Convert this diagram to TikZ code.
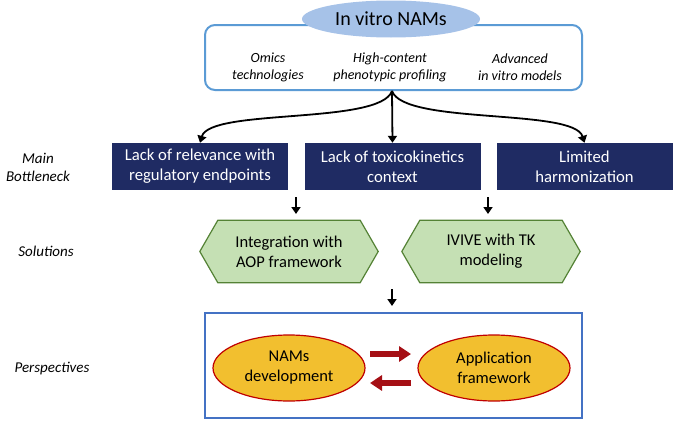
\documentclass[tikz,border=0pt]{standalone}
\usepackage{fontspec}
\setmainfont{Carlito}
\usetikzlibrary{shapes.geometric,arrows.meta,calc}
\definecolor{topblue}{HTML}{5B9BD5}
\definecolor{ellblue}{HTML}{A6C2E8}
\definecolor{navy}{HTML}{1F2B63}
\definecolor{hexfill}{HTML}{C5E0B4}
\definecolor{hexline}{HTML}{548235}
\definecolor{botblue}{HTML}{4472C4}
\definecolor{ovfill}{HTML}{F2BF2F}
\definecolor{ovline}{HTML}{C00000}
\definecolor{redarr}{HTML}{A50F15}
\tikzset{
  x=1pt,y=-1pt,
  lab/.style={font=\itshape\fontsize{14}{17}\selectfont,align=center},
  sidelab/.style={font=\itshape\fontsize{15}{18}\selectfont,align=center},
  bneck/.style={fill=navy,text=white,minimum width=176pt,minimum height=47pt,align=center,font=\fontsize{16.7}{20}\selectfont,inner sep=0pt},
  hexa/.style={minimum width=178pt,minimum height=62pt,align=center,font=\fontsize{16.5}{20}\selectfont,inner sep=0pt},
  hexdraw/.style={draw=hexline,line width=1.2pt,fill=hexfill},
  oval/.style={ellipse,draw=ovline,line width=1.2pt,fill=ovfill,minimum width=152pt,minimum height=66pt,align=center,font=\fontsize{16.5}{20}\selectfont,inner sep=0pt},
  blk/.style={-{Triangle[length=7pt,width=9pt]},line width=1.8pt,black},
  redar/.style={-{Triangle[length=12pt,width=15pt]},line width=6pt,redarr},
}
\begin{document}
\begin{tikzpicture}
\useasboundingbox (0,0) rectangle (675,423);
% top box
\node[draw=topblue,line width=2pt,rounded corners=10pt,minimum width=377pt,minimum height=65pt,inner sep=0pt] (top) at (393.5,57.5) {};
\node[ellipse,fill=ellblue,minimum width=178pt,minimum height=37pt,font=\fontsize{20}{24}\selectfont,inner sep=0pt] (nams) at (391,19) {In vitro NAMs};
\node[lab] (omics) at (268,67) {Omics\\technologies};
\node[lab] (hcpp) at (390,67) {High-content\\phenotypic profiling};
\node[lab] (adv) at (520,67) {Advanced\\in vitro models};
\coordinate (junc) at (392,91);
% bottleneck boxes
\node[bneck] (b1) at (200,166.5) {Lack of relevance with\\regulatory endpoints};
\node[bneck] (b2) at (392.5,166.5) {Lack of toxicokinetics\\context};
\node[bneck] (b3) at (584.5,166.5) {Limited\\harmonization};
\draw[blk] (junc) .. controls (380,125) and (210,108) .. (b1.north);
\draw[blk] (junc) -- (b2.north);
\draw[blk] (junc) .. controls (404,125) and (574,108) .. (b3.north);
% side labels
\node[sidelab] (mb) at (38,167) {Main\\Bottleneck};
\node[sidelab] (sol) at (46,251) {Solutions};
\node[sidelab] (per) at (52,369) {Perspectives};
% solutions
\node[hexa] (h1) at (289,251.5) {};
\node[hexa] (h2) at (491,251.5) {};
\foreach \h in {h1,h2}{
  \draw[hexdraw] (\h.west) -- ($(\h.north west)+(18,0)$) -- ($(\h.north east)+(-18,0)$) -- (\h.east) -- ($(\h.south east)+(-18,0)$) -- ($(\h.south west)+(18,0)$) -- cycle;
}
\node[hexa] (t1) at (h1) {Integration with\\AOP framework};
\node[hexa] (t2) at (h2) {IVIVE with TK\\modeling};
\coordinate (a1s) at (296,197);
\coordinate (a1e) at (296,214);
\coordinate (a2s) at (488,197);
\coordinate (a2e) at (488,214);
\draw[blk] (a1s) -- (a1e);
\draw[blk] (a2s) -- (a2e);
\coordinate (a3s) at (392,289);
\coordinate (a3e) at (392,306);
\draw[blk] (a3s) -- (a3e);
% perspectives
\node[draw=botblue,line width=2.2pt,minimum width=377pt,minimum height=105pt,inner sep=0pt] (bot) at (393.5,365.5) {};
\node[oval] (o1) at (289,368) {NAMs\\development};
\node[oval] (o2) at (494,368) {Application\\framework};
\coordinate (r1s) at (370,354);
\coordinate (r1e) at (411,354);
\coordinate (r2s) at (411,383);
\coordinate (r2e) at (370,383);
\draw[redar] (r1s) -- (r1e);
\draw[redar] (r2s) -- (r2e);
\end{tikzpicture}
\end{document}
